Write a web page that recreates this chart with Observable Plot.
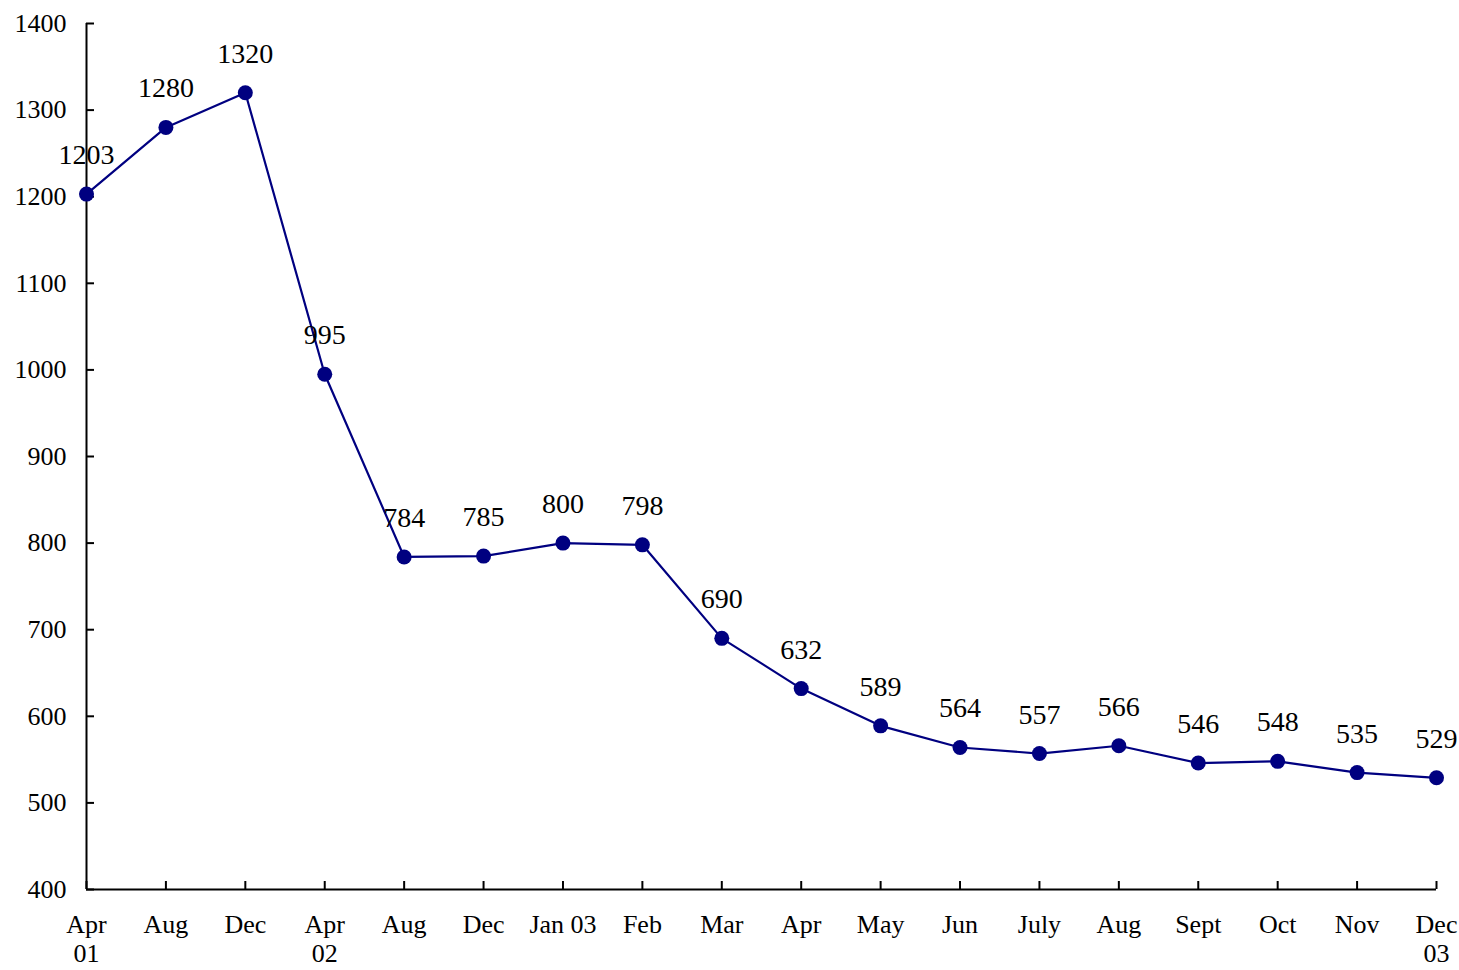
<!DOCTYPE html>
<html>
<head>
<meta charset="utf-8">
<script src="https://cdn.jsdelivr.net/npm/d3@7"></script>
<script src="https://cdn.jsdelivr.net/npm/@observablehq/plot@0.6"></script>
<style>
  html, body { margin: 0; padding: 0; background: #fff; }
  svg { font-family: "Liberation Serif", "Times New Roman", serif; }
</style>
</head>
<body>
<div id="chart"></div>
<script>
const labels = ["Apr\n01", "Aug", "Dec", "Apr\n02", "Aug", "Dec", "Jan 03", "Feb", "Mar", "Apr", "May", "Jun", "July", "Aug", "Sept", "Oct", "Nov", "Dec\n03"];
const values = [1203, 1280, 1320, 995, 784, 785, 800, 798, 690, 632, 589, 564, 557, 566, 546, 548, 535, 529];
const yTicks = [400, 500, 600, 700, 800, 900, 1000, 1100, 1200, 1300, 1400];

const data = values.map((v, i) => ({i, v, label: labels[i]}));
const idx = labels.map((_, i) => i);

const chart = Plot.plot({
  width: 1459,
  height: 970,
  marginTop: 23,
  marginBottom: 81,
  marginLeft: 86,
  marginRight: 23,
  style: {fontFamily: "Liberation Serif, Times New Roman, serif", background: "#fff", color: "#000"},
  x: {type: "linear", domain: [0, labels.length - 1]},
  y: {domain: [400, 1400]},
  marks: [
    Plot.axisY({ticks: yTicks, tickSize: -8, strokeWidth: 2, text: null, label: null}),
    Plot.axisY({ticks: yTicks, tickSize: 0, tickPadding: 20, fontSize: 26, label: null, tickFormat: d => String(d)}),
    Plot.axisX({ticks: idx, tickSize: -8, strokeWidth: 2, text: null, label: null}),
    Plot.axisX({ticks: idx, tickSize: 0, tickPadding: 23, fontSize: 26, lineHeight: 1.12, label: null, tickFormat: i => labels[i]}),
    Plot.ruleY([400], {stroke: "#000", strokeWidth: 2}),
    Plot.ruleX([0], {stroke: "#000", strokeWidth: 2}),
    Plot.line(data, {x: "i", y: "v", stroke: "#000080", strokeWidth: 2.2}),
    Plot.dot(data, {x: "i", y: "v", r: 7.5, fill: "#000080", stroke: "none"}),
    Plot.text(data, {x: "i", y: "v", text: d => String(d.v), dy: -39, fontSize: 28, fill: "#000"})
  ]
});
document.getElementById("chart").appendChild(chart);
</script>
</body>
</html>
